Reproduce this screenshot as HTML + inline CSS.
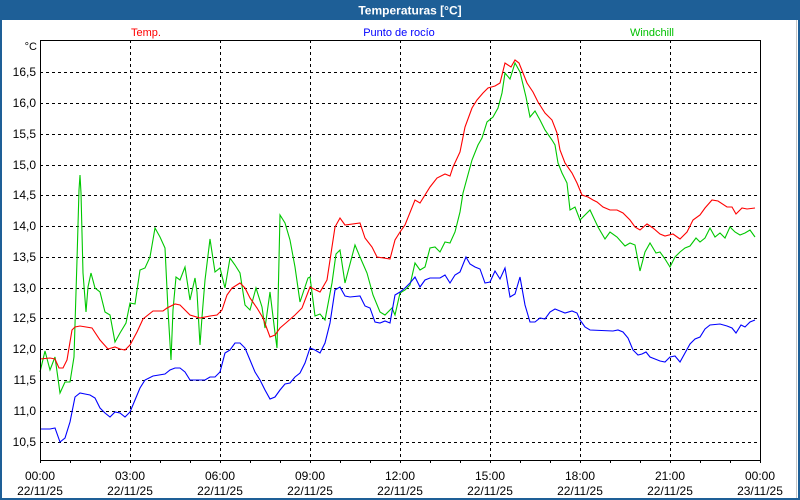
<!DOCTYPE html>
<html><head><meta charset="utf-8">
<style>
html,body{margin:0;padding:0;background:#fff;}
svg{display:block;}
text{font-family:"Liberation Sans","DejaVu Sans",sans-serif;}
</style></head>
<body>
<svg width="800" height="500" viewBox="0 0 800 500" xmlns="http://www.w3.org/2000/svg">
<rect x="0" y="0" width="800" height="500" fill="#ffffff"/>
<rect x="0" y="0" width="800" height="20" fill="#1e5f97"/>
<rect x="0" y="0" width="2" height="500" fill="#1e5f97"/>
<rect x="798" y="0" width="2" height="500" fill="#1e5f97"/>
<rect x="0" y="498" width="800" height="2" fill="#1e5f97"/>
<line x1="796.5" y1="20" x2="796.5" y2="498" stroke="#c8c8c8" stroke-width="1"/>
<text x="410" y="14.5" font-size="12" font-weight="bold" fill="#ffffff" text-anchor="middle">Temperaturas [°C]</text>

<text x="146" y="36" font-size="11" fill="#ff0000" text-anchor="middle">Temp.</text>
<text x="399" y="36" font-size="11" fill="#0000ff" text-anchor="middle">Punto de rocío</text>
<text x="652" y="36" font-size="11" fill="#00c000" text-anchor="middle">Windchill</text>
<text x="37" y="50" font-size="11" fill="#000" text-anchor="end">°C</text>

<g stroke="#000" stroke-width="1" stroke-dasharray="3,3" shape-rendering="crispEdges">
<line x1="40" y1="72.5" x2="760" y2="72.5"/>
<line x1="40" y1="103.5" x2="760" y2="103.5"/>
<line x1="40" y1="134.5" x2="760" y2="134.5"/>
<line x1="40" y1="165.5" x2="760" y2="165.5"/>
<line x1="40" y1="195.5" x2="760" y2="195.5"/>
<line x1="40" y1="226.5" x2="760" y2="226.5"/>
<line x1="40" y1="257.5" x2="760" y2="257.5"/>
<line x1="40" y1="288.5" x2="760" y2="288.5"/>
<line x1="40" y1="318.5" x2="760" y2="318.5"/>
<line x1="40" y1="349.5" x2="760" y2="349.5"/>
<line x1="40" y1="380.5" x2="760" y2="380.5"/>
<line x1="40" y1="411.5" x2="760" y2="411.5"/>
<line x1="40" y1="442.5" x2="760" y2="442.5"/>
<line x1="130.5" y1="40" x2="130.5" y2="460"/>
<line x1="220.5" y1="40" x2="220.5" y2="460"/>
<line x1="310.5" y1="40" x2="310.5" y2="460"/>
<line x1="400.5" y1="40" x2="400.5" y2="460"/>
<line x1="490.5" y1="40" x2="490.5" y2="460"/>
<line x1="580.5" y1="40" x2="580.5" y2="460"/>
<line x1="670.5" y1="40" x2="670.5" y2="460"/>
</g>

<g font-size="12" fill="#000" text-anchor="end">
<text x="36" y="76">16,5</text>
<text x="36" y="107">16,0</text>
<text x="36" y="138">15,5</text>
<text x="36" y="169">15,0</text>
<text x="36" y="199">14,5</text>
<text x="36" y="230">14,0</text>
<text x="36" y="261">13,5</text>
<text x="36" y="292">13,0</text>
<text x="36" y="322">12,5</text>
<text x="36" y="353">12,0</text>
<text x="36" y="384">11,5</text>
<text x="36" y="415">11,0</text>
<text x="36" y="446">10,5</text>
</g>

<g stroke="#000" stroke-width="1" shape-rendering="crispEdges">
<path d="M40.5 463V460M70.5 463V460M100.5 463V460M130.5 463V460M160.5 463V460M190.5 463V460M220.5 463V460M250.5 463V460M280.5 463V460M310.5 463V460M340.5 463V460M370.5 463V460M400.5 463V460M430.5 463V460M460.5 463V460M490.5 463V460M520.5 463V460M550.5 463V460M580.5 463V460M610.5 463V460M640.5 463V460M670.5 463V460M700.5 463V460M730.5 463V460M760.5 463V460"/>
</g>

<g font-size="12" fill="#000" text-anchor="middle">
<text x="40" y="480">00:00</text><text x="40" y="495">22/11/25</text>
<text x="130" y="480">03:00</text><text x="130" y="495">22/11/25</text>
<text x="220" y="480">06:00</text><text x="220" y="495">22/11/25</text>
<text x="310" y="480">09:00</text><text x="310" y="495">22/11/25</text>
<text x="400" y="480">12:00</text><text x="400" y="495">22/11/25</text>
<text x="490" y="480">15:00</text><text x="490" y="495">22/11/25</text>
<text x="580" y="480">18:00</text><text x="580" y="495">22/11/25</text>
<text x="670" y="480">21:00</text><text x="670" y="495">22/11/25</text>
<text x="760" y="480">00:00</text><text x="760" y="495">23/11/25</text>
</g>

<g fill="none" stroke-width="1.1" stroke-linejoin="miter">
<polyline stroke="#00c800" points="40,372 45,351 50,370 55,357 60,393 65,382 70,382 74,357 77,260 79,190 80,175 81,193 83,273 86,312 88,287 91,273 95,288 100,292 105,312 110,315 115,342 120,333 126,323 130,303 135,304 140,270 145,268 150,257 155,228 160,237 165,248 168,310 171,360 173,310 176,277 180,280 185,267 190,300 195,278 197,292 200,345 202,317 205,280 210,239 215,272 220,268 225,288 230,258 235,265 240,273 245,305 250,310 256,288 262,307 265,328 270,292 275,333 277,348 280,215 285,223 290,240 295,267 300,302 308,278 310,277 315,316 320,314 325,320 332,283 336,254 340,250 345,283 355,245 360,257 367,273 373,295 380,312 385,315 392,308 395,315 400,293 405,290 410,285 415,263 420,270 425,267 430,248 435,247 440,252 445,242 450,243 455,232 460,212 463,193 472,160 478,145 482,138 487,122 493,117 498,108 502,93 505,73 510,79 515,63 520,72 526,97 530,117 535,111 540,120 545,130 552,140 555,145 558,163 562,173 567,183 570,210 575,207 580,220 590,210 598,227 605,239 610,232 617,237 625,246 630,243 635,245 640,271 645,252 650,243 656,253 660,252 665,259 670,267 675,257 680,252 685,248 690,246 696,238 700,242 705,238 710,228 715,237 720,233 725,238 730,227 735,232 740,235 745,233 750,230 755,237"/>
<polyline stroke="#ff0000" points="40,359 50,358 55,359 59,368 63,368 67,360 72,330 75,327 80,326 92,328 100,340 108,349 115,347 120,349 125,350 130,345 137,332 143,319 153,311 163,311 167,308 175,304 180,305 190,315 200,318 210,316 217,315 222,310 227,295 232,288 240,283 245,288 250,298 257,308 263,318 270,337 275,335 280,328 287,322 295,315 302,308 310,287 320,292 327,280 335,227 340,218 345,225 360,223 365,238 372,247 377,257 390,259 395,240 400,232 405,225 415,200 420,203 430,187 437,178 445,174 450,176 453,167 460,152 465,127 472,108 477,100 483,93 488,88 495,86 500,83 505,63 511,67 515,60 519,63 523,73 527,83 533,92 538,102 545,113 552,120 557,133 560,150 565,163 572,173 577,183 582,195 588,197 593,200 597,202 603,207 610,210 617,210 623,213 630,220 635,227 640,230 647,224 653,228 660,234 665,236 673,234 680,239 687,232 693,220 700,215 705,208 712,200 718,201 727,207 732,207 736,214 742,208 747,209 755,208"/>
<polyline stroke="#0000ff" points="40,429 50,429 55,428 60,442 65,438 70,422 75,397 80,393 85,394 90,395 95,398 100,408 105,413 110,417 115,412 120,413 125,417 130,412 135,400 140,388 145,380 153,376 165,374 170,370 175,368 180,368 185,372 190,380 205,380 210,377 215,377 220,372 225,353 230,350 235,343 240,343 245,348 250,360 255,372 260,380 265,390 270,399 275,397 280,390 285,384 290,383 295,377 300,373 305,363 310,348 315,350 320,353 325,343 330,323 335,290 340,287 345,296 350,297 360,296 365,306 370,308 375,322 380,323 385,321 390,323 395,295 400,292 405,288 410,283 415,277 420,287 425,280 430,278 440,278 445,275 450,283 455,275 460,272 466,257 470,264 475,267 480,269 485,283 490,282 495,271 500,279 505,268 510,297 515,294 520,277 525,305 530,322 535,322 540,318 545,319 550,312 555,309 560,311 565,313 572,311 577,313 580,320 585,327 590,330 613,331 618,330 623,332 628,338 633,350 638,355 642,354 646,352 650,357 655,359 660,361 665,362 670,357 675,356 680,362 685,353 690,344 695,339 700,337 705,329 710,325 720,324 727,326 732,328 736,333 741,325 745,327 750,322 755,320"/>
</g>

<rect x="40.5" y="40.5" width="720" height="420" fill="none" stroke="#000" stroke-width="1" shape-rendering="crispEdges"/>
</svg>
</body></html>
